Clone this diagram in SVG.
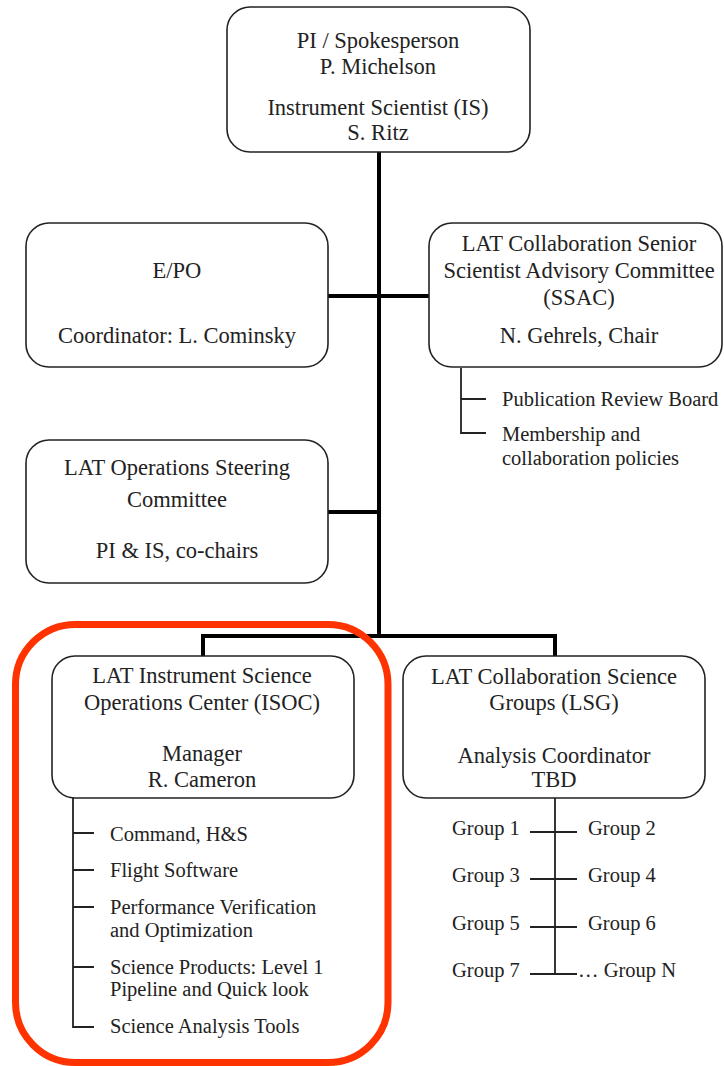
<svg xmlns="http://www.w3.org/2000/svg" width="724" height="1066" viewBox="0 0 724 1066">
<style>
.box{fill:#fff;stroke:#222;stroke-width:1.6}
.t{font-family:"Liberation Serif","Times New Roman",serif;font-size:22.5px;fill:#222}
.s{font-family:"Liberation Serif","Times New Roman",serif;font-size:20.5px;fill:#222}
.c{text-anchor:middle}
.thick{stroke:#000;stroke-width:4;fill:none}
.thin{stroke:#222;stroke-width:1.8;fill:none}
</style>
<rect width="724" height="1066" fill="#fff"/>
<g id="connectors">
<path class="thick" d="M379 152V636M328 296H430M328 512H379M203 656V636H555V656"/>
<path class="thin" d="M461 368V433H486M461 399H486"/>
<path class="thin" d="M73 798V1027H94M73 833H94M73 870H94M73 907H94M73 967H94"/>
<path class="thin" d="M555 798V974M530 832H577M530 879H577M530 927H577M530 974H577"/>
</g>
<g id="pi"><rect class="box" x="227" y="7" width="303" height="145" rx="23"/>
<text class="t c" x="378" y="48">PI / Spokesperson</text>
<text class="t c" x="378" y="74">P. Michelson</text>
<text class="t c" x="378" y="115">Instrument Scientist (IS)</text>
<text class="t c" x="378" y="140">S. Ritz</text></g>
<g id="epo"><rect class="box" x="26" y="223" width="302" height="144" rx="23"/>
<text class="t c" x="177" y="278">E/PO</text>
<text class="t c" x="177" y="343">Coordinator: L. Cominsky</text></g>
<g id="ssac"><rect class="box" x="429" y="223" width="293" height="144" rx="23"/>
<text class="t c" x="579" y="251">LAT Collaboration Senior</text>
<text class="t c" x="579" y="278">Scientist Advisory Committee</text>
<text class="t c" x="579" y="305">(SSAC)</text>
<text class="t c" x="579" y="343">N. Gehrels, Chair</text></g>
<g id="ssac-sub">
<text class="s" x="502" y="406">Publication Review Board</text>
<text class="s" x="502" y="441">Membership and</text>
<text class="s" x="502" y="465">collaboration policies</text></g>
<g id="ops"><rect class="box" x="26" y="440" width="302" height="143" rx="23"/>
<text class="t c" x="177" y="475">LAT Operations Steering</text>
<text class="t c" x="177" y="507">Committee</text>
<text class="t c" x="177" y="558">PI &amp; IS, co-chairs</text></g>
<g id="isoc"><rect class="box" x="52" y="656" width="302" height="142" rx="23"/>
<text class="t c" x="202" y="683">LAT Instrument Science</text>
<text class="t c" x="202" y="710">Operations Center (ISOC)</text>
<text class="t c" x="202" y="761">Manager</text>
<text class="t c" x="202" y="787">R. Cameron</text></g>
<g id="isoc-sub">
<text class="s" x="110" y="841">Command, H&amp;S</text>
<text class="s" x="110" y="877">Flight Software</text>
<text class="s" x="110" y="914">Performance Verification</text>
<text class="s" x="110" y="937">and Optimization</text>
<text class="s" x="110" y="974">Science Products: Level 1</text>
<text class="s" x="110" y="996">Pipeline and Quick look</text>
<text class="s" x="110" y="1033">Science Analysis Tools</text></g>
<g id="lsg"><rect class="box" x="403" y="656" width="302" height="142" rx="23"/>
<text class="t c" x="554" y="684">LAT Collaboration Science</text>
<text class="t c" x="554" y="710">Groups (LSG)</text>
<text class="t c" x="554" y="763">Analysis Coordinator</text>
<text class="t c" x="554" y="787">TBD</text></g>
<g id="groups">
<text class="s" x="452" y="835">Group 1</text><text class="s" x="588" y="835">Group 2</text>
<text class="s" x="452" y="882">Group 3</text><text class="s" x="588" y="882">Group 4</text>
<text class="s" x="452" y="930">Group 5</text><text class="s" x="588" y="930">Group 6</text>
<text class="s" x="452" y="977">Group 7</text><text class="s" x="578" y="977">… Group N</text></g>
<g id="highlight"><rect x="15.5" y="624.5" width="372.5" height="438" rx="60" fill="none" stroke="#ff3300" stroke-width="7"/></g>
</svg>
